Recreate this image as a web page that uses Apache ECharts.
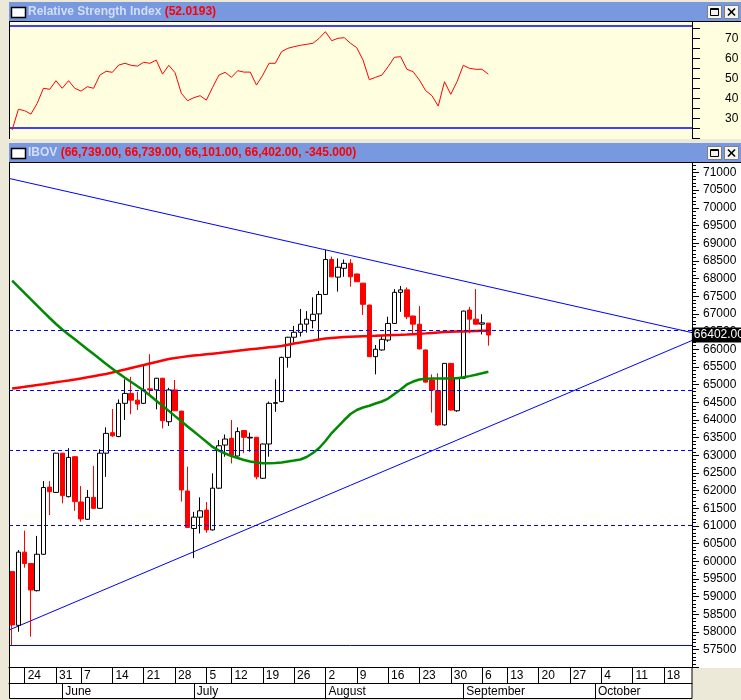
<!DOCTYPE html>
<html><head><meta charset="utf-8">
<script src="https://cdn.jsdelivr.net/npm/echarts@6/dist/echarts.min.js"></script>
<style>html,body{margin:0;padding:0;background:#ece9d8;overflow:hidden}#c{width:741px;height:700px}</style>
</head><body><div id="c"></div><script>
// ---- categories (trading days, 2010) ----
const dates = ['05-20','05-21','05-24','05-25','05-26','05-27','05-28','05-31',
'06-01','06-02','06-04','06-07','06-08','06-09','06-10','06-11','06-14','06-15','06-16','06-17','06-18','06-21','06-22','06-23','06-24','06-25','06-28','06-29','06-30',
'07-01','07-02','07-05','07-06','07-07','07-08','07-12','07-13','07-14','07-15','07-16','07-19','07-20','07-21','07-22','07-23','07-26','07-27','07-28','07-29','07-30',
'08-02','08-03','08-04','08-05','08-06','08-09','08-10','08-11','08-12','08-13','08-16','08-17','08-18','08-19','08-20','08-23','08-24','08-25','08-26','08-27','08-30','08-31',
'09-01','09-02','09-03','09-06','09-08','09-09','09-10','09-13','09-14','09-15','09-16','09-17','09-20','09-21','09-22','09-23','09-24','09-27','09-28','09-29','09-30',
'10-01','10-04','10-05','10-06','10-07','10-08','10-11','10-12','10-13','10-14','10-15','10-18','10-19','10-20','10-21','10-22'];
const weekStarts = ['05-24','05-31','06-07','06-14','06-21','06-28','07-05','07-12','07-19','07-26','08-02','08-09','08-16','08-23','08-30','09-06','09-13','09-20','09-27','10-04','10-11','10-18'];
const weekLabels = ['24','31','7','14','21','28','5','12','19','26','2','9','16','23','30','6','13','20','27','4','11','18'];
const monthStarts = ['06-01','07-01','08-02','09-01','10-01'];
const monthNames = ['June','July','August','September','October'];

// ---- IBOV daily OHLC ----
const opens  = [59710,58190,60260,59940,59170,60200,62100,61950,63060,61830,62960,61680,61190,61810,61500,63060,63640,63530,64470,64750,64560,64470,64880,64850,65180,63950,64850,64250,61990,60930,61250,61450,60890,62070,63290,63480,62980,63700,63490,63510,62350,63320,64470,64520,65770,66340,66480,66710,66810,67000,67550,68540,68040,68290,68430,68130,67870,67250,65790,65980,66260,66730,67610,67680,66940,66710,65980,65130,64830,63860,65600,64260,65180,67110,66850,66710,66739];
const highs  = [59710,60320,60870,59940,60720,62270,62270,63070,63070,63200,62980,62130,62020,62700,63170,63790,64310,64580,65150,65220,64800,65530,65860,65190,65190,64910,65130,64260,62680,61400,61810,61680,62490,63430,63590,64000,63790,63710,63640,63520,63330,64520,65150,65790,66350,66660,67140,67080,67470,67650,68810,68620,68570,68540,68550,68140,67870,67260,66120,66400,66920,67700,67790,67750,66950,67220,65990,65290,65320,65610,65610,65190,67090,67200,67700,66990,66739];
const lows   = [57630,58010,59820,57870,59150,60180,61310,61940,61640,61810,61430,61120,61170,61480,61480,62390,63520,63510,64000,64160,64280,64450,64700,64300,63760,63830,64250,61690,60950,60090,60790,60810,60870,62050,62960,62770,62960,63060,63100,62320,62330,62960,64230,64500,65480,66190,66360,66470,66590,66260,67540,68040,67630,68050,67770,67900,66970,65780,65290,65960,66210,66720,67060,66850,66430,66000,65050,64210,63830,63840,64270,64230,65170,66450,66700,66420,66101];
const closes = [58200,60260,59940,59190,60200,62090,61970,63060,61860,62940,61690,61200,61810,61500,63060,63620,63550,64470,64750,64560,64450,64850,64850,65180,63980,64850,64260,62020,60960,61250,61430,60890,62070,63270,63460,63010,63670,63510,63510,62390,63320,64470,64490,65770,66340,66480,66710,66850,66990,67550,68540,68050,68320,68430,68050,67910,67270,65790,66000,66280,66730,67610,67680,66920,66710,66010,65070,64850,63860,65600,64280,65180,67080,66850,66710,66747,66402];
// moving averages
const maRed = [64889,64913,64937,64962,64986,65011,65038,65064,65091,65117,65144,65175,65206,65238,65269,65300,65342,65385,65427,65470,65512,65554,65597,65639,65682,65724,65750,65777,65803,65820,65837,65856,65875,65894,65915,65936,65957,65977,65998,66017,66035,66054,66073,66092,66127,66162,66190,66219,66247,66276,66304,66318,66332,66346,66353,66360,66367,66373,66380,66389,66397,66404,66410,66417,66427,66437,66449,66462,66474,66485,66496,66501,66505,66510,66515,66520,66525];
const maGreen = [67942,67764,67588,67410,67235,67056,66884,66714,66558,66420,66281,66140,66001,65863,65724,65582,65447,65317,65195,65076,64954,64833,64691,64544,64400,64256,64109,63964,63817,63673,63529,63382,63237,63133,63051,62980,62923,62867,62824,62796,62773,62773,62782,62796,62824,62852,62881,62951,63065,63206,63404,63630,63814,63998,64168,64281,64352,64403,64465,64522,64606,64734,64861,65003,65087,65144,65164,65172,65172,65172,65178,65181,65206,65240,65277,65319,65365];
// RSI
const rsi = [24.2,34.5,33.8,32.1,37.5,45.0,44.5,48.8,45.0,48.8,45.0,43.6,45.8,45.0,51.6,53.5,53.0,56.6,57.5,56.5,56.1,58.0,57.5,59.1,52.1,56.5,52.8,42.5,38.8,40.3,41.3,39.1,45.5,51.6,53.0,50.5,53.8,53.1,53.1,46.6,51.6,57.5,57.5,63.3,65.0,65.8,66.5,67.0,67.5,70.0,73.3,68.8,70.0,70.3,67.5,65.3,59.1,49.3,50.5,51.6,55.8,60.5,60.8,54.5,53.3,49.1,43.8,41.3,36.1,48.3,42.0,48.3,56.5,55.0,54.5,54.5,52.0];
const rsiBands = [76.3, 25.5];
const rsiTickLabels = [30,40,50,60,70];
// horizontal levels & trendlines (start / end of visible range)
const dashedLevels = [66539, 64847, 63135, 61019];
const solidLevel = 57633;
const trendUpper = [70833, 66470];
const trendLower = [58057, 66247];
const rsiTitle = 'Relative Strength Index', rsiValueText = '(52.0193)';
const mainTitle = 'IBOV', mainValueText = '(66,739.00, 66,739.00, 66,101.00, 66,402.00, -345.000)';

const lastIdx = closes.length - 1, lastClose = closes[lastIdx];
const candleData = opens.map((o, i) => [o, closes[i], lows[i], highs[i]]);
const FONT = 'Liberation Sans';

function headerBar(y, title, value) {
  return [
    {type:'rect', z:100, shape:{x:9,y:y,width:732,height:19}, style:{fill:'#7898e0'}},
    {type:'rect', z:101, shape:{x:11.5,y:y+5.5,width:14,height:10}, style:{fill:'#fff', stroke:'#000', lineWidth:1.5}},
    {type:'text', z:101, x:28, y:y+10, style:{text:'{a|'+title+'} {b|'+value+'}', verticalAlign:'middle',
      rich:{a:{fill:'#d4def8', fontWeight:'bold', fontSize:12, fontFamily:FONT}, b:{fill:'#ff0000', fontWeight:'bold', fontSize:12, fontFamily:FONT}}}},
    {type:'rect', z:101, shape:{x:707.5,y:y+3.5,width:14,height:13}, style:{fill:'#f4f4f0', stroke:'#808080', lineWidth:1}},
    {type:'rect', z:102, shape:{x:710.5,y:y+6.5,width:8,height:7}, style:{fill:'none', stroke:'#000', lineWidth:1}},
    {type:'line', z:102, shape:{x1:710.5,y1:y+7.5,x2:718.5,y2:y+7.5}, style:{stroke:'#000', lineWidth:1}},
    {type:'rect', z:101, shape:{x:724.5,y:y+3.5,width:14,height:13}, style:{fill:'#f4f4f0', stroke:'#808080', lineWidth:1}},
    {type:'line', z:102, shape:{x1:728,y1:y+6.5,x2:735,y2:y+13.5}, style:{stroke:'#000', lineWidth:1.6}},
    {type:'line', z:102, shape:{x1:735,y1:y+6.5,x2:728,y2:y+13.5}, style:{stroke:'#000', lineWidth:1.6}}
  ];
}

const chart = echarts.init(document.getElementById('c'), null, {renderer:'canvas'});
chart.setOption({
  animation:false,
  backgroundColor:'#ece9d8',
  textStyle:{fontFamily:FONT},
  grid:[
    {left:9, top:21, width:683, height:117.3, outerBoundsMode:'none', containLabel:false},
    {left:9, top:162, width:683, height:505.4, outerBoundsMode:'none', containLabel:false}
  ],
  xAxis:[
    {type:'category', gridIndex:0, data:dates, boundaryGap:true, show:false, axisLine:{onZero:false}},
    {type:'category', gridIndex:1, data:dates, boundaryGap:true, position:'bottom',
      axisLine:{show:true, onZero:false, lineStyle:{color:'#000', width:1}},
      axisTick:{show:true, alignWithLabel:true, length:16, inside:false, interval:(i,v)=>weekStarts.includes(v), lineStyle:{color:'#000', width:1}},
      axisLabel:{show:true, interval:(i,v)=>weekStarts.includes(v), formatter:(v)=>weekLabels[weekStarts.indexOf(v)],
        align:'left', padding:[0,0,0,3], margin:2, color:'#000', fontSize:12, fontFamily:FONT},
      splitLine:{show:false}},
    {type:'category', gridIndex:1, data:dates, boundaryGap:true, position:'bottom', offset:16,
      axisLine:{show:true, onZero:false, lineStyle:{color:'#000', width:1}},
      axisTick:{show:true, alignWithLabel:true, length:16, inside:false, interval:(i,v)=>monthStarts.includes(v), lineStyle:{color:'#000', width:1}},
      axisLabel:{show:true, interval:(i,v)=>monthStarts.includes(v), formatter:(v)=>monthNames[monthStarts.indexOf(v)],
        align:'left', padding:[0,0,0,3], margin:2, color:'#000', fontSize:12, fontFamily:FONT},
      splitLine:{show:false}},
    {type:'value', gridIndex:1, min:-0.5, max:dates.length-0.5, show:false, position:'bottom', axisLine:{onZero:false}}
  ],
  yAxis:[
    {type:'value', gridIndex:0, position:'right', min:20, max:78.65, interval:5, scale:true,
      axisLine:{show:true, onZero:false, lineStyle:{color:'#000', width:1}},
      axisTick:{show:true, length:8, lineStyle:{color:'#000'}},
      axisLabel:{show:true, margin:33, color:'#000', fontSize:12, fontFamily:FONT, formatter:(v)=>rsiTickLabels.includes(v)?String(v):''},
      splitLine:{show:false}},
    {type:'value', gridIndex:1, position:'right', min:57000, max:71297, interval:500, scale:true,
      axisLine:{show:true, onZero:false, lineStyle:{color:'#000', width:1}},
      axisTick:{show:true, length:7, lineStyle:{color:'#000'}},
      minorTick:{show:true, splitNumber:5, length:4, lineStyle:{color:'#000'}},
      axisLabel:{show:true, margin:11, color:'#000', fontSize:12, fontFamily:FONT, formatter:(v)=>(v%500===0 && v>=57500 && v<=71000)?String(v):''},
      splitLine:{show:false}, minorSplitLine:{show:false}}
  ],
  graphic:[
    {type:'rect', z:-10, shape:{x:9,y:21,width:732,height:118}, style:{fill:'#ffffe0'}},
    {type:'rect', z:-10, shape:{x:9,y:162,width:732,height:506}, style:{fill:'#ffffff'}},
    {type:'rect', z:-10, shape:{x:9.5,y:667.5,width:682.5,height:31}, style:{fill:'#ffffff', stroke:'#000', lineWidth:1}},
    {type:'line', z:60, shape:{x1:9.5,y1:21,x2:9.5,y2:139}, style:{stroke:'#000', lineWidth:1}},
    {type:'line', z:60, shape:{x1:9.5,y1:162,x2:9.5,y2:668}, style:{stroke:'#000', lineWidth:1}},
    {type:'line', z:60, shape:{x1:9,y1:21.5,x2:741,y2:21.5}, style:{stroke:'#000', lineWidth:1}},
    {type:'line', z:60, shape:{x1:9,y1:162.5,x2:741,y2:162.5}, style:{stroke:'#000', lineWidth:1}},
    ...headerBar(2, rsiTitle, rsiValueText),
    ...headerBar(143, mainTitle, mainValueText)
  ],
  series:[
    {type:'line', name:'RSI', xAxisIndex:0, yAxisIndex:0, data:rsi, symbol:'none', lineStyle:{color:'#ff0000', width:1}, z:5,
      markLine:{silent:true, symbol:'none', animation:false, label:{show:false},
        data: rsiBands.map(v=>({yAxis:v, lineStyle:{color:'#0000ff', type:'solid', width:1.5}}))}},
    {type:'line', xAxisIndex:3, yAxisIndex:1, data:[[-0.5,trendUpper[0]],[dates.length-0.5,trendUpper[1]]], symbol:'none', lineStyle:{color:'#0000ff', width:1}, z:1},
    {type:'line', xAxisIndex:3, yAxisIndex:1, data:[[-0.5,trendLower[0]],[dates.length-0.5,trendLower[1]]], symbol:'none', lineStyle:{color:'#0000ff', width:1}, z:1},
    {type:'candlestick', xAxisIndex:1, yAxisIndex:1, data:candleData, barWidth:5, z:3,
      itemStyle:{color:'#ffffff', color0:'#ff0000', borderColor:'#000000', borderColor0:'#ff0000', borderWidth:1},
      markLine:{silent:true, symbol:'none', animation:false, label:{show:false},
        data:[
          ...dashedLevels.map(v=>({yAxis:v, lineStyle:{color:'#0000ff', type:[4,3], width:1}})),
          {yAxis:solidLevel, lineStyle:{color:'#0000ff', type:'solid', width:1}}
        ]}},
    {type:'line', xAxisIndex:1, yAxisIndex:1, data:maRed, symbol:'none', lineStyle:{color:'#ff0000', width:2.5}, z:4},
    {type:'line', xAxisIndex:1, yAxisIndex:1, data:maGreen, symbol:'none', lineStyle:{color:'#008a00', width:2.5}, z:4},
    {type:'line', xAxisIndex:1, yAxisIndex:1, data:[], symbol:'none', z:20,
      markLine:{silent:true, symbol:'none', animation:false,
        data:[[{coord:[lastIdx,lastClose], lineStyle:{color:'rgba(0,0,0,0)', width:0, opacity:1},
            label:{show:true, opacity:1, position:'end', distance:3, formatter:lastClose.toFixed(2), color:'#fff', backgroundColor:'#000', padding:[2,2,1,2], fontSize:12, fontFamily:FONT}},
           {coord:[dates.length-1,lastClose]}]]}}
  ]
});
</script></body></html>
